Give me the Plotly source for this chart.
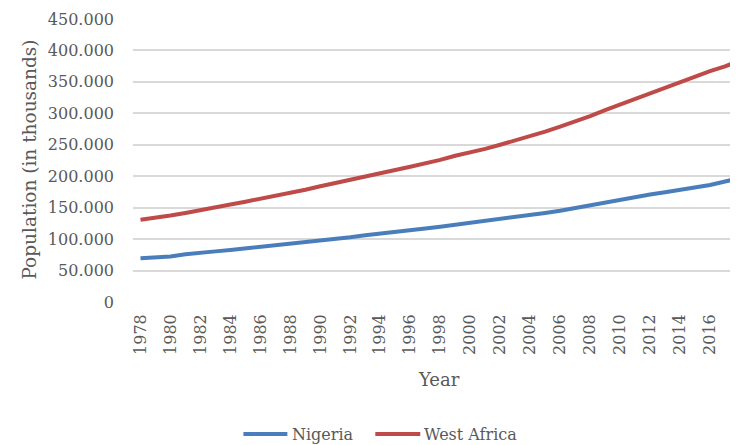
import plotly.graph_objects as go

years = list(range(1978, 2019))
nigeria = [69500, 70300, 72500, 76000, 77500, 80500, 82800, 85300, 87000, 88800,
           91500, 94000, 96800, 99500, 102800, 106000, 108500, 110700, 113500, 117000,
           119800, 122800, 125500, 128000, 131500, 135500, 138000, 141500, 145000, 149500,
           154000, 158000, 162500, 166500, 171000, 174500, 178500, 181500, 186000, 191500,
           197000]
west_africa = [130800, 133500, 137500, 141500, 146500, 151000, 155000, 159500, 164000, 168000,
               173500, 178500, 184000, 189500, 194500, 199500, 204500, 210000, 215000, 220000,
               226000, 232500, 237500, 243500, 250000, 256500, 263000, 271000, 279000, 287000,
               295500, 305000, 314000, 322500, 331000, 339500, 349000, 358000, 367000, 374500,
               384000]
series_names = ["Nigeria", "West Africa"]
series_colors = ["#4a7ebb", "#be4b48"]
y_ticks = [0, 50000, 100000, 150000, 200000, 250000, 300000, 350000, 400000, 450000]
x_ticks = list(range(1978, 2019, 2))

FONT = "DejaVu Serif"
GREY = "#595959"

# page body adds an 8px offset; figure is sized to the visible area
W, H = 730, 437
PL, PT, PB = 124.5, 11, 294          # plot area left, top, bottom (figure px)
PW, PH = W - PL, PB - PT


def px_x(v):
    return (v - PL) / PW


def px_y(v):
    return (PB - v) / PH


fig = go.Figure()
for name, vals, col in zip(series_names, [nigeria, west_africa], series_colors):
    fig.add_trace(go.Scatter(x=years, y=vals, mode="lines", name=name,
                             line=dict(color=col, width=4), showlegend=False))

# legend drawn as line samples + text
LEG_Y = 426
legend_items = [(235, 279, 282), (367, 412, 414)]   # line start, line end, text left
shapes = []
annotations = []
for (x0, x1, tx), name, col in zip(legend_items, series_names, series_colors):
    shapes.append(dict(type="line", xref="paper", yref="paper",
                       x0=px_x(x0), x1=px_x(x1), y0=px_y(LEG_Y), y1=px_y(LEG_Y),
                       line=dict(color=col, width=4)))
    annotations.append(dict(text=name, xref="paper", yref="paper", x=px_x(tx), y=px_y(LEG_Y),
                            xanchor="left", yanchor="middle", showarrow=False,
                            font=dict(family=FONT, size=16, color=GREY)))

annotations += [
    dict(text="Population (in thousands)", textangle=-90, xref="paper", yref="paper",
         x=px_x(20), y=px_y(152), xanchor="center", yanchor="middle", showarrow=False,
         font=dict(family=FONT, size=18.5, color=GREY)),
    dict(text="Year", xref="paper", yref="paper",
         x=px_x(431), y=px_y(371), showarrow=False,
         xanchor="center", yanchor="middle",
         font=dict(family=FONT, size=18, color=GREY)),
    dict(text="2018", textangle=-90, xref="paper", yref="paper",
         x=px_x(PL + (2018 - 1977.5) * 15), y=px_y(302), xanchor="center", yanchor="top",
         showarrow=False, font=dict(family=FONT, size=16, color=GREY)),
]

fig.update_layout(
    width=W, height=H,
    margin=dict(l=PL, r=0, t=PT, b=H - PB, autoexpand=False),
    paper_bgcolor="white", plot_bgcolor="white",
    separators=",.",
    font=dict(family=FONT, size=16, color=GREY),
    showlegend=False,
    xaxis=dict(range=[1977.5, 1977.5 + PW / 15], tickmode="array",
               tickvals=x_ticks, ticktext=[str(t) for t in x_ticks], tickangle=-90,
               showgrid=False, zeroline=False, showline=False, ticks="", automargin=False,
               ticklabelstandoff=8, tickfont=dict(family=FONT, size=16, color=GREY)),
    yaxis=dict(range=[0, 450000], tickmode="array", tickvals=y_ticks,
               tickformat=",d", showgrid=True, gridcolor="#d9d9d9", gridwidth=1.5,
               zeroline=False, showline=False, ticks="", ticklabelstandoff=18, automargin=False,
               tickfont=dict(family=FONT, size=16, color=GREY)),
    shapes=shapes,
    annotations=annotations,
)

fig.write_html("out.html")
